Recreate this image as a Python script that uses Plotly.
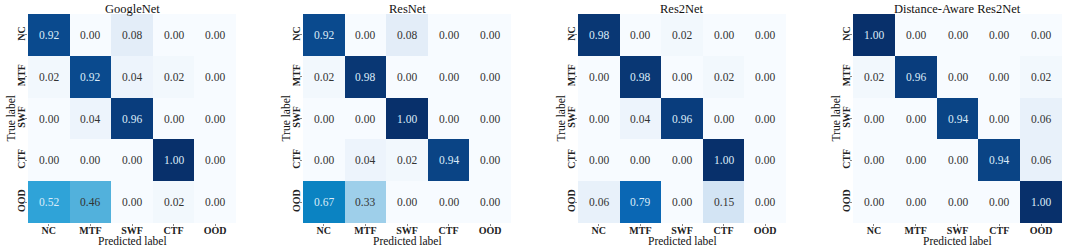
import plotly.graph_objects as go

labels = ["NC", "MTF", "SWF", "CTF", "OOD"]
titles = ["GoogleNet", "ResNet", "Res2Net", "Distance-Aware Res2Net"]

googlenet = [[0.92, 0.00, 0.08, 0.00, 0.00],
             [0.02, 0.92, 0.04, 0.02, 0.00],
             [0.00, 0.04, 0.96, 0.00, 0.00],
             [0.00, 0.00, 0.00, 1.00, 0.00],
             [0.52, 0.46, 0.00, 0.02, 0.00]]
resnet = [[0.92, 0.00, 0.08, 0.00, 0.00],
          [0.02, 0.98, 0.00, 0.00, 0.00],
          [0.00, 0.00, 1.00, 0.00, 0.00],
          [0.00, 0.04, 0.02, 0.94, 0.00],
          [0.67, 0.33, 0.00, 0.00, 0.00]]
res2net = [[0.98, 0.00, 0.02, 0.00, 0.00],
           [0.00, 0.98, 0.00, 0.02, 0.00],
           [0.00, 0.04, 0.96, 0.00, 0.00],
           [0.00, 0.00, 0.00, 1.00, 0.00],
           [0.06, 0.79, 0.00, 0.15, 0.00]]
da_res2net = [[1.00, 0.00, 0.00, 0.00, 0.00],
              [0.02, 0.96, 0.00, 0.00, 0.02],
              [0.00, 0.00, 0.94, 0.00, 0.06],
              [0.00, 0.00, 0.00, 0.94, 0.06],
              [0.00, 0.00, 0.00, 0.00, 1.00]]

matrices = [googlenet, resnet, res2net, da_res2net]

W, H = 1065, 249
FONT = "Liberation Serif, Times New Roman, serif"
colorscale = [[0.0, "#f7fbff"], [0.08, "#e3edf8"], [0.15, "#d3e4f4"],
              [0.33, "#9ecfea"], [0.46, "#52b1dc"], [0.52, "#2fa3d8"],
              [0.67, "#0b83c2"], [0.79, "#0a67b4"], [0.92, "#0a4a8e"],
              [1.0, "#08306b"]]

x_px = [(28, 236), (303, 511), (578, 786), (853, 1062)]
y_top, y_bot = 14, 223

fig = go.Figure()
annotations = []
for i, (mat, title) in enumerate(zip(matrices, titles)):
    n = "" if i == 0 else str(i + 1)
    xa, ya = "x" + n, "y" + n
    fig.add_trace(go.Heatmap(
        z=mat, x=labels, y=labels, xaxis=xa, yaxis=ya,
        colorscale=colorscale, zmin=0, zmax=1, showscale=False,
        hoverinfo="skip"))
    x0, x1 = x_px[i]
    ax = dict(domain=[x0 / W, x1 / W], anchor=ya,
              showgrid=False, zeroline=False, showline=False,
              ticks="outside", ticklen=2, tickcolor="#888", tickwidth=1,
              ticklabelstandoff=-4,
              tickfont=dict(family=FONT, size=10, color="#222", weight="bold"),
              fixedrange=True)
    ay = dict(domain=[1 - y_bot / H, 1 - y_top / H],
              anchor=xa, showgrid=False, zeroline=False, showline=False,
              autorange="reversed", ticks="outside", ticklen=2,
              tickcolor="#888", tickwidth=1, tickangle=-90,
              ticklabelstandoff=-4,
              tickfont=dict(family=FONT, size=10, color="#222", weight="bold"),
              fixedrange=True)
    fig.layout["xaxis" + n] = ax
    fig.layout["yaxis" + n] = ay

    for r, row_label in enumerate(labels):
        for c, col_label in enumerate(labels):
            v = mat[r][c]
            annotations.append(dict(
                x=col_label, y=row_label, xref=xa, yref=ya,
                text=f"{v:.2f}", showarrow=False,
                font=dict(family=FONT, size=11.5,
                          color="#dcecf8" if v > 0.5 else "#333333")))

    dx = xa + " domain"
    dy = ya + " domain"
    annotations.append(dict(text=title, x=0.5, y=1, xref=dx, yref=dy,
                            yshift=5, xanchor="center", yanchor="middle",
                            showarrow=False,
                            font=dict(family=FONT, size=12.5, color="#111")))
    annotations.append(dict(text="Predicted label", x=0.5, y=0, xref=dx,
                            yref=dy, yshift=-18, xanchor="center",
                            yanchor="middle", showarrow=False,
                            font=dict(family=FONT, size=11.5, color="#111")))
    annotations.append(dict(text="True label", x=0, y=0.5, xref=dx,
                            yref=dy, xshift=-18, xanchor="center",
                            yanchor="middle", textangle=-90, showarrow=False,
                            font=dict(family=FONT, size=11.5, color="#111")))

fig.update_layout(width=W, height=H, margin=dict(l=0, r=0, t=0, b=0),
                  paper_bgcolor="white", plot_bgcolor="white",
                  annotations=annotations, font=dict(family=FONT))
fig.write_html("out.html", config={"displayModeBar": False},
               post_script="document.body.style.margin='0px';"
                           "document.body.style.overflow='hidden';")
